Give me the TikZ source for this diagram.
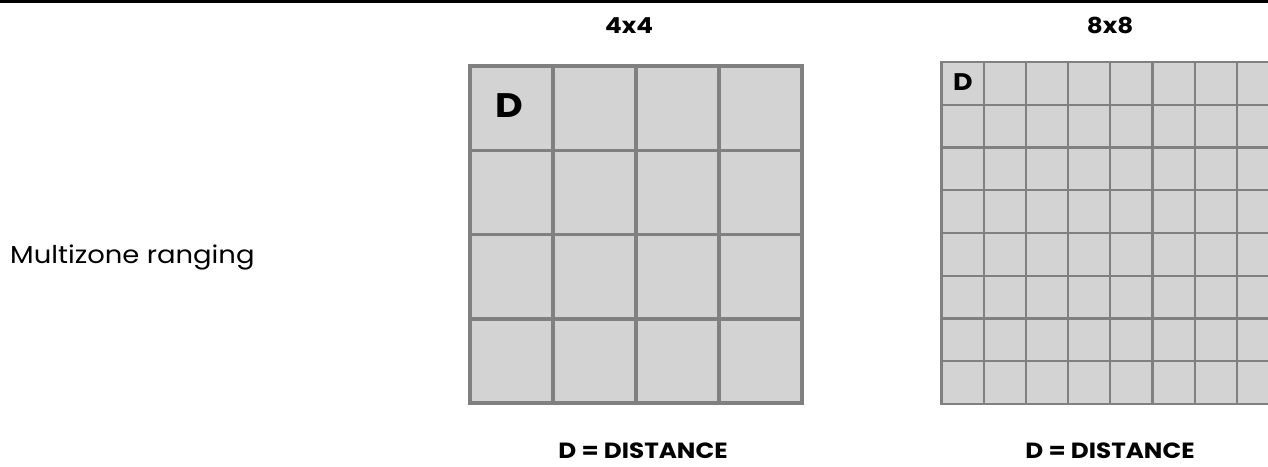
\documentclass[tikz,border=0pt]{standalone}
\usepackage{fontspec}
\setmainfont{Poppins}
\newfontfamily\mfont[FakeStretch=1.12]{Poppins}
\definecolor{cellfill}{HTML}{D3D3D3}
\definecolor{gridline}{HTML}{808080}
\begin{document}
\begin{tikzpicture}[x=1pt,y=-1pt,
  hdr/.style={font=\mfont\fontsize{22}{22}\selectfont\bfseries, anchor=base, inner sep=0pt},
  lbl/.style={font=\mfont\fontsize{24.5}{24.5}\selectfont, anchor=base west, inner sep=0pt},
  bigD/.style={font=\mfont\fontsize{34}{34}\selectfont\bfseries, anchor=base, inner sep=0pt},
  smallD/.style={font=\mfont\fontsize{24}{24}\selectfont\bfseries, anchor=base, inner sep=0pt}]
\useasboundingbox (0,0) rectangle (1268,466);
\fill[white] (0,0) rectangle (1268,466);
\draw[black, line width=2.6pt] (0,1.3) -- (1268,1.3);
% 4x4 grid
\fill[cellfill] (470,66) rectangle (802,403);
\foreach \i in {0,...,4} {
  \draw[gridline, line width=3.5pt] ({470+\i*83},64.3) -- ({470+\i*83},404.7);
  \draw[gridline, line width=3.5pt] (468.3,{66+\i*84.25}) -- (803.7,{66+\i*84.25});
}
% 8x8 grid (clipped at right edge)
\begin{scope}
\clip (0,0) rectangle (1268,466);
\fill[cellfill] (941.5,62) rectangle (1279,404);
\foreach \i in {0,...,8} {
  \draw[gridline, line width=2.2pt] ({941.5+\i*42.2},61) -- ({941.5+\i*42.2},405);
  \draw[gridline, line width=2.2pt] (940.4,{62+\i*42.75}) -- (1282,{62+\i*42.75});
}
\end{scope}
\node[hdr] (h4) at (629,33) {4x4};
\node[hdr] (h8) at (1110,33) {8x8};
\node[bigD] (d4) at (509.5,117.5) {D};
\node[smallD] (d8) at (963,90.5) {D};
\node[hdr] (c4) at (643,458) {D = DISTANCE};
\node[hdr] (c8) at (1110,458) {D = DISTANCE};
\node[lbl] (ml) at (10,263) {Multizone ranging};
\end{tikzpicture}
\end{document}
